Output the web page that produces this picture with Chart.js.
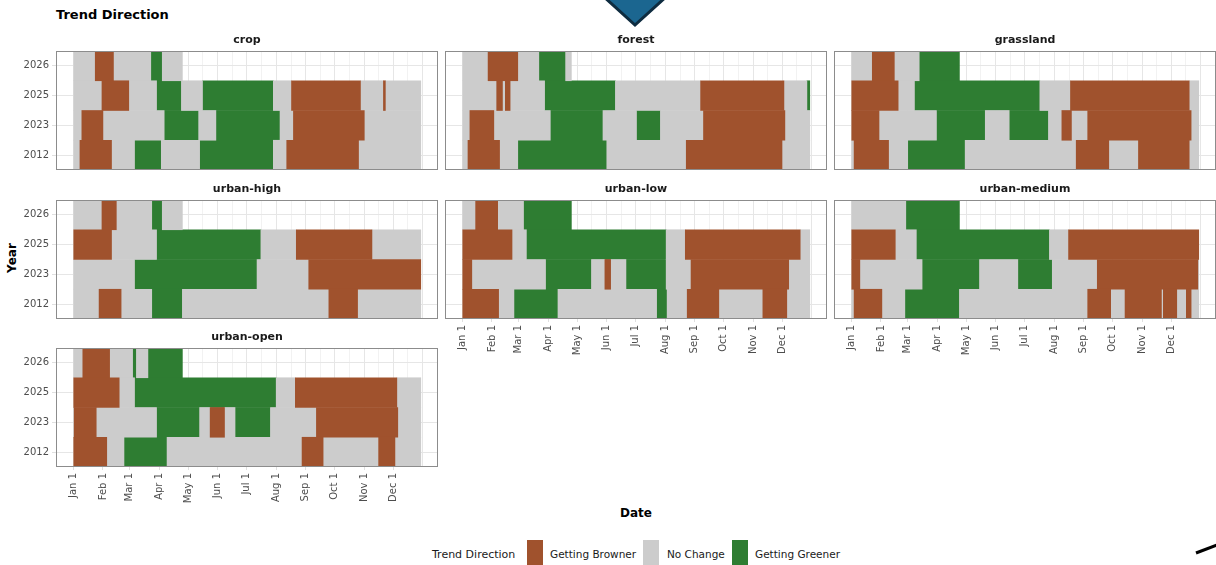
<!DOCTYPE html>
<html>
<head>
<meta charset="utf-8">
<script src="https://cdn.jsdelivr.net/npm/chart.js@4.4.1/dist/chart.umd.min.js"></script>
<style>
  body { margin: 0; width: 1216px; height: 565px; overflow: hidden; background: #fff; position: relative; font-family: "DejaVu Sans", sans-serif; }
  canvas { position: absolute; }
  .txt { position: absolute; white-space: nowrap; color: #000; }
  .key { position: absolute; width: 16px; height: 26px; top: 540px; }
</style>
</head>
<body>
<div class="txt" style="left:56px; top:7px; font-size:13px; font-weight:bold; line-height:16px;">Trend Direction</div>
<div class="txt" style="left:12px; top:258px; font-size:12px; font-weight:bold; transform:translate(-50%,-50%) rotate(-90deg);">Year</div>
<div class="txt" style="left:636px; top:513px; font-size:12px; font-weight:bold; transform:translate(-50%,-50%);">Date</div>

<div class="txt" style="left:432px; top:554px; font-size:11px; color:#1a1a1a; transform:translateY(-50%);">Trend Direction</div>
<div class="key" style="left:527px; background:#A0522D;"></div>
<div class="txt" style="left:550px; top:554px; font-size:10.5px; color:#1a1a1a; transform:translateY(-50%);">Getting Browner</div>
<div class="key" style="left:643px; background:#CCCCCC;"></div>
<div class="txt" style="left:667px; top:554px; font-size:10.5px; color:#1a1a1a; transform:translateY(-50%);">No Change</div>
<div class="key" style="left:732px; background:#2E7D32;"></div>
<div class="txt" style="left:755px; top:554px; font-size:10.5px; color:#1a1a1a; transform:translateY(-50%);">Getting Greener</div>

<svg style="position:absolute; left:0; top:0; z-index:5;" width="1216" height="565">
  <polygon points="603,-4 667,-4 635,25" fill="#1b6690" stroke="#0e2c40" stroke-width="3"/>
  <line x1="1196" y1="553" x2="1217" y2="545" stroke="#000" stroke-width="3"/>
</svg>

<script>
// Year rows, top to bottom
const years = ["2026", "2025", "2023", "2012"];

// x axis: day of year, labels at month starts
const monthStarts = [0, 31, 59, 90, 120, 151, 181, 212, 243, 273, 304, 334];
const monthLabels = ["Jan 1", "Feb 1", "Mar 1", "Apr 1", "May 1", "Jun 1", "Jul 1", "Aug 1", "Sep 1", "Oct 1", "Nov 1", "Dec 1"];

// Segments per year: day breaks + trend code per segment
// B = Getting Browner, N = No Change, G = Getting Greener
const cropBreaks = [
  [0, 23, 42, 81, 93, 114],
  [0, 30, 58, 87, 113, 135, 209, 228, 300, 324, 326, 363],
  [0, 9, 31, 95, 131, 149, 216, 230, 304, 363],
  [0, 7, 40, 64, 92, 132, 209, 223, 298, 363]
];
const cropCodes = ["NBNGN", "NBNGNGNBNBN", "NBNGNGNBN", "NBNGNGNBN"];

const forestBreaks = [
  [0, 27, 58, 80, 108, 114],
  [0, 36, 42, 45, 50, 86, 160, 249, 336, 360, 363],
  [0, 8, 33, 92, 147, 182, 207, 252, 337, 363],
  [0, 6, 39, 58, 151, 234, 334, 363]
];
const forestCodes = ["NBNGN", "NBNBNGNBNG", "NBNGNGNBN", "NBNGNBN"];

const grasslandBreaks = [
  [0, 22, 45, 71, 113],
  [0, 49, 66, 197, 229, 353, 363],
  [0, 29, 89, 140, 165, 206, 220, 230, 247, 355, 363],
  [0, 3, 39, 59, 119, 235, 269, 300, 353, 363]
];
const grasslandCodes = ["NBNG", "BNGNBN", "BNGNGNBNBN", "NBNGNBNBN"];

const urbanHighBreaks = [
  [0, 30, 45, 82, 93, 114],
  [0, 40, 87, 196, 233, 312, 363],
  [0, 64, 192, 246, 363],
  [0, 27, 50, 82, 114, 267, 297, 363]
];
const urbanHighCodes = ["NBNGN", "BNGNBN", "NGNB", "NBNGNBN"];

const urbanLowBreaks = [
  [0, 14, 37, 64, 114],
  [0, 52, 67, 213, 233, 353, 363],
  [0, 10, 87, 135, 149, 155, 171, 213, 239, 341, 363],
  [0, 38, 54, 100, 203, 214, 235, 268, 314, 339, 363]
];
const urbanLowCodes = ["NBNG", "BNGNBN", "BNGNBNGNBN", "BNGNGNBNBN"];

const urbanMediumBreaks = [
  [0, 57, 113],
  [0, 46, 68, 207, 227, 363],
  [0, 9, 74, 134, 174, 210, 257, 362, 363],
  [0, 3, 32, 56, 113, 247, 271, 286, 324, 326, 340, 350, 355, 363]
];
const urbanMediumCodes = ["NG", "BNGNB", "BNGNGNBN", "NBNGNBNBNBNBN"];

const urbanOpenBreaks = [
  [0, 10, 38, 62, 66, 78, 114],
  [0, 48, 64, 212, 232, 338, 363],
  [0, 1, 24, 87, 132, 143, 158, 169, 206, 254, 339, 363],
  [0, 35, 53, 98, 239, 261, 319, 336, 363]
];
const urbanOpenCodes = ["NBNGNG", "BNGNBN", "NBNGNBNGNBN", "BNGNBNBN"];

const trendNames = { B: "Getting Browner", N: "No Change", G: "Getting Greener" };
const colours = { B: "#A0522D", N: "#CCCCCC", G: "#2E7D32" };

// gridlines: month starts (major) and half-months (minor)
const majorDays = monthStarts.concat([365]);
const gridDays = [];
majorDays.forEach((d, i) => {
  gridDays.push(d);
  if (i < majorDays.length - 1) gridDays.push((d + majorDays[i + 1]) / 2);
});

const font = "DejaVu Sans";
const colLeft = [56, 445, 834];
const rowTop = [51, 200, 348];
const plotW = 382, plotH = 119, stripH = 17, yAxisW = 56, xAxisH = 42, xSpacer = 12;

const panels = [
  { name: "crop", breaks: cropBreaks, codes: cropCodes, row: 0, col: 0, showX: false },
  { name: "forest", breaks: forestBreaks, codes: forestCodes, row: 0, col: 1, showX: false },
  { name: "grassland", breaks: grasslandBreaks, codes: grasslandCodes, row: 0, col: 2, showX: false },
  { name: "urban-high", breaks: urbanHighBreaks, codes: urbanHighCodes, row: 1, col: 0, showX: false },
  { name: "urban-low", breaks: urbanLowBreaks, codes: urbanLowCodes, row: 1, col: 1, showX: true },
  { name: "urban-medium", breaks: urbanMediumBreaks, codes: urbanMediumCodes, row: 1, col: 2, showX: true },
  { name: "urban-open", breaks: urbanOpenBreaks, codes: urbanOpenCodes, row: 2, col: 0, showX: true }
];

// draw the grey frame around each panel
const panelBorder = {
  id: "panelBorder",
  afterDraw(chart) {
    const { ctx, chartArea: a } = chart;
    ctx.save();
    ctx.strokeStyle = "#8c8c8c";
    ctx.lineWidth = 1;
    ctx.strokeRect(Math.round(a.left) + 0.5, Math.round(a.top) + 0.5,
      Math.round(a.right - a.left) - 1, Math.round(a.bottom - a.top) - 1);
    ctx.restore();
  }
};

function buildDatasets(breaks, codes) {
  return ["B", "N", "G"].map(k => {
    const data = [];
    years.forEach((yr, r) => {
      for (let i = 0; i < codes[r].length; i++) {
        if (codes[r][i] === k) data.push({ x: [breaks[r][i], breaks[r][i + 1]], y: yr });
      }
    });
    return {
      label: trendNames[k],
      data: data,
      backgroundColor: colours[k],
      borderWidth: 0,
      barPercentage: 1,
      categoryPercentage: 1,
      grouped: false
    };
  });
}

panels.forEach(p => {
  const showY = p.col === 0;
  const bottomH = p.showX ? xAxisH : xSpacer;
  const canvas = document.createElement("canvas");
  const left = showY ? 0 : colLeft[p.col];
  const width = showY ? yAxisW + plotW : plotW;
  const height = stripH + plotH + bottomH;
  canvas.width = width;
  canvas.height = height;
  canvas.style.left = left + "px";
  canvas.style.top = (rowTop[p.row] - stripH) + "px";
  document.body.appendChild(canvas);

  new Chart(canvas, {
    type: "bar",
    data: { labels: years, datasets: buildDatasets(p.breaks, p.codes) },
    options: {
      indexAxis: "y",
      responsive: false,
      animation: false,
      devicePixelRatio: 1,
      layout: { padding: 0 },
      plugins: {
        legend: { display: false },
        tooltip: { enabled: false },
        title: {
          display: true,
          text: p.name,
          fullSize: false,
          color: "#1a1a1a",
          font: { family: font, size: 11, weight: "bold", lineHeight: "13px" },
          padding: { top: 0, bottom: 4 }
        }
      },
      scales: {
        x: {
          type: "linear",
          min: -18,
          max: 381,
          afterBuildTicks: s => { s.ticks = gridDays.map(v => ({ value: v })); },
          afterFit: s => { s.height = bottomH; },
          border: { display: false },
          grid: {
            color: c => majorDays.includes(c.tick.value) ? "#e6e6e6" : "#f2f2f2",
            tickColor: c => monthStarts.includes(c.tick.value) ? "#e0e0e0" : "rgba(0,0,0,0)",
            drawTicks: p.showX,
            tickLength: 3
          },
          ticks: {
            display: p.showX,
            autoSkip: false,
            minRotation: 90,
            maxRotation: 90,
            padding: 3,
            color: "#4d4d4d",
            font: { family: font, size: 10 },
            callback: v => {
              const i = monthStarts.indexOf(v);
              return i >= 0 ? monthLabels[i] : "";
            }
          }
        },
        y: {
          type: "category",
          labels: years,
          offset: true,
          afterFit: s => { if (showY) s.width = yAxisW; },
          border: { display: false },
          grid: { offset: false, color: "#e6e6e6", drawTicks: showY, tickLength: 4, tickColor: "#e0e0e0" },
          ticks: {
            display: showY,
            padding: 3,
            color: "#4d4d4d",
            font: { family: font, size: 10 }
          }
        }
      }
    },
    plugins: [panelBorder]
  });
});
</script>
</body>
</html>
